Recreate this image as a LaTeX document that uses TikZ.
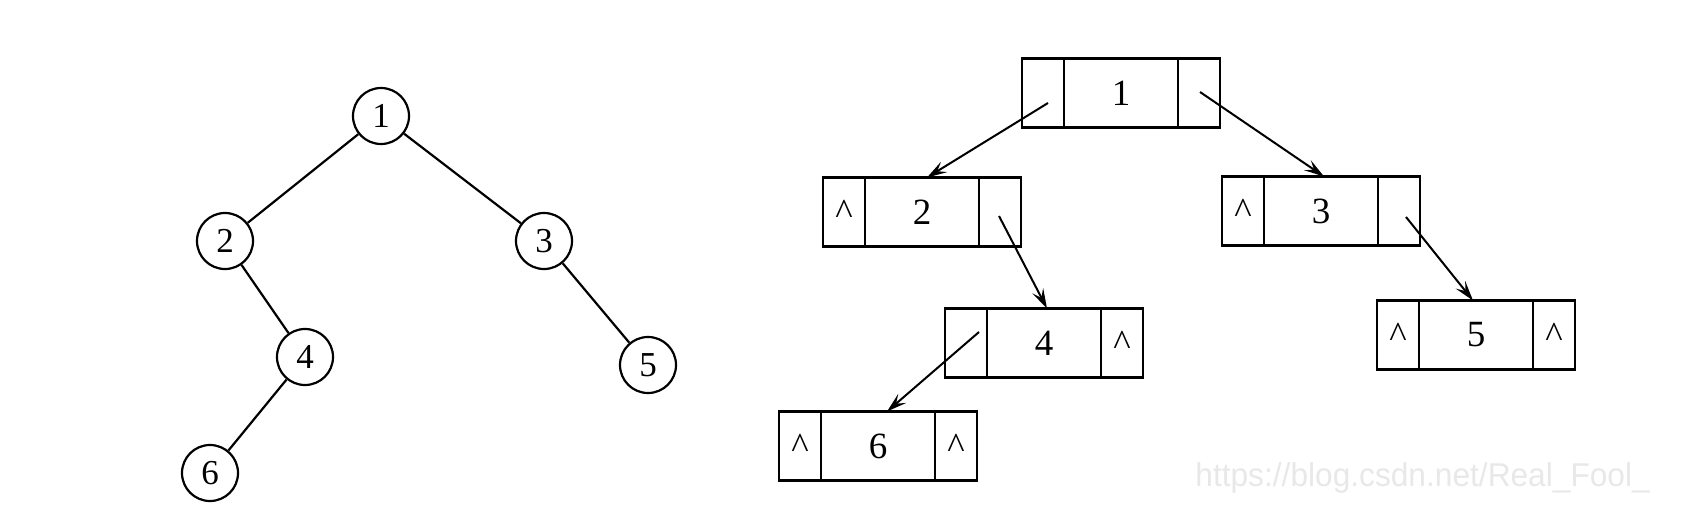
\documentclass[tikz,border=0pt]{standalone}
\usepackage{fontspec}
\setmainfont{Liberation Serif}
\newfontfamily\wmfont{Liberation Sans}
\usetikzlibrary{arrows.meta,calc}
\begin{document}
\begin{tikzpicture}[x=0.5pt,y=-0.5pt,
  tnode/.style={circle,draw,line width=1.1pt,minimum size=28pt,inner sep=0pt,
    font=\fontsize{17.5}{19}\selectfont},
  tedge/.style={line width=1.1pt},
  cellbase/.style={rectangle,draw,line width=1.2pt,minimum height=34.5pt,inner sep=0pt,outer sep=0pt,
    font=\fontsize{18.5}{20}\selectfont},
  sidecell/.style={cellbase,minimum width=21pt},
  midcell/.style={cellbase,minimum width=57pt},
  ptr/.style={line width=1pt,-{Stealth[length=10pt,width=6pt,inset=4pt]}}
]
\useasboundingbox (0,0) rectangle (1700,530);

% left tree
\node[tnode] (n1) at (381,116) {1};
\node[tnode] (n2) at (225,241) {2};
\node[tnode] (n3) at (544,241) {3};
\node[tnode] (n4) at (305,357) {4};
\node[tnode] (n5) at (648,365) {5};
\node[tnode] (n6) at (210,473) {6};
\draw[tedge] (n1) -- (n2);
\draw[tedge] (n1) -- (n3);
\draw[tedge] (n2) -- (n4);
\draw[tedge] (n3) -- (n5);
\draw[tedge] (n4) -- (n6);

% linked representation
% box 1
\node[midcell] (b1m) at (1121,93) {1};
\node[sidecell] (b1l) at (1043,93) {};
\node[sidecell] (b1r) at (1199,93) {};
% box 2
\node[midcell] (b2m) at (922,212) {2};
\node[sidecell] (b2l) at (844,212) {\textasciicircum};
\node[sidecell] (b2r) at (1000,212) {};
% box 3
\node[midcell] (b3m) at (1321,211) {3};
\node[sidecell] (b3l) at (1243,211) {\textasciicircum};
\node[sidecell] (b3r) at (1399,211) {};
% box 4
\node[midcell] (b4m) at (1044,343) {4};
\node[sidecell] (b4l) at (966,343) {};
\node[sidecell] (b4r) at (1122,343) {\textasciicircum};
% box 5
\node[midcell] (b5m) at (1476,335) {5};
\node[sidecell] (b5l) at (1398,335) {\textasciicircum};
\node[sidecell] (b5r) at (1554,335) {\textasciicircum};
% box 6
\node[midcell] (b6m) at (878,446) {6};
\node[sidecell] (b6l) at (800,446) {\textasciicircum};
\node[sidecell] (b6r) at (956,446) {\textasciicircum};

% pointers
\draw[ptr] ($(b1l.center)+(5,10)$) -- ($(b2m.north)+(5,0)$);
\draw[ptr] ($(b1r.center)+(1,-1)$) -- ($(b3m.north)+(3,0)$);
\draw[ptr] ($(b2r.center)+(-1,4)$) -- ($(b4m.north)+(3,0)$);
\draw[ptr] ($(b3r.center)+(7,6)$) -- ($(b5m.north)+(-3,0)$);
\draw[ptr] ($(b4l.center)+(13,-11)$) -- ($(b6m.north)+(9,0)$);

% watermark
\node[anchor=base west,inner sep=0pt,text=black!9,xscale=0.96,
  font=\wmfont\fontsize{16.5}{18}\selectfont] (wm) at (1195,486) {https://blog.csdn.net/Real\_Fool\_};
\end{tikzpicture}
\end{document}
